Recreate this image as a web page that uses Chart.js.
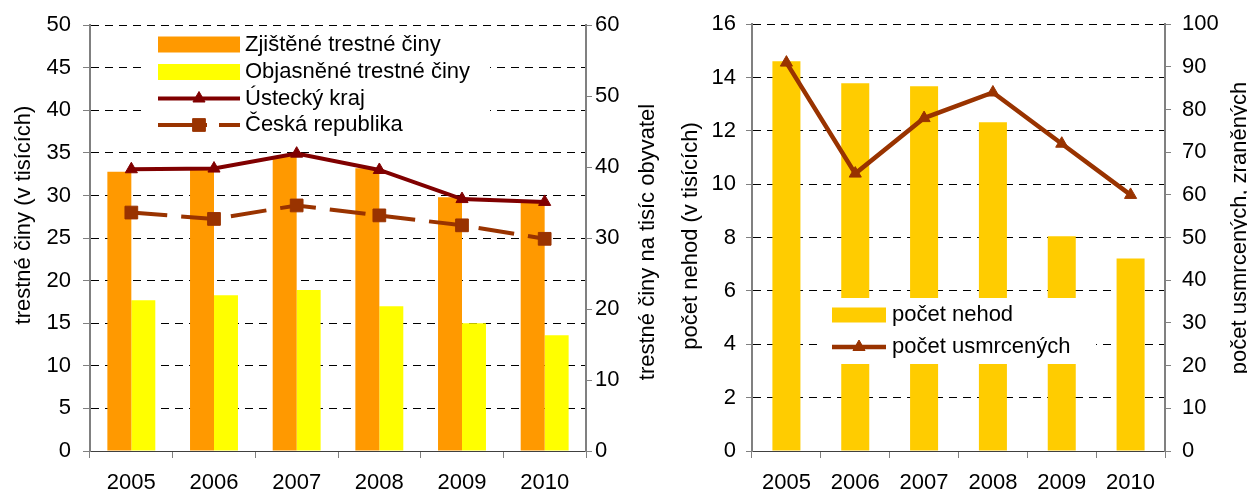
<!DOCTYPE html>
<html>
<head>
<meta charset="utf-8">
<script src="https://cdn.jsdelivr.net/npm/chart.js@4.4.0/dist/chart.umd.min.js"></script>
<style>
    html, body { margin: 0; padding: 0; background: #fff; }
    #wrap { position: relative; width: 1247px; height: 492px; overflow: hidden; }
    #leftChart { position: absolute; left: 0; top: 0; }
    #rightChart { position: absolute; left: 668px; top: 0; }
</style>
</head>
<body>
<div id="wrap">
    <canvas id="leftChart" width="668" height="492"></canvas>
    <canvas id="rightChart" width="579" height="492"></canvas>
</div>
<script>
// data
const years = ["2005", "2006", "2007", "2008", "2009", "2010"];
const zjistene = [32.8, 33.1, 34.6, 33.2, 29.8, 29.4];      // v tisících
const objasnene = [17.7, 18.3, 18.9, 17.0, 15.0, 13.6];     // v tisících
const ustecky = [39.7, 39.8, 41.9, 39.6, 35.5, 35.1];       // na tisíc obyvatel
const ceska = [33.6, 32.7, 34.6, 33.2, 31.8, 29.9];         // na tisíc obyvatel
const nehody = [14.61, 13.79, 13.67, 12.32, 8.05, 7.22];    // v tisících
const usmrceni = [91, 65, 78, 84, 72, 60];

const FONT = "'Liberation Sans', Arial, sans-serif";
Chart.defaults.font.family = FONT;
Chart.defaults.font.size = 22;
Chart.defaults.color = "#000";

const AXIS_GRAY = "#808080";

// legend drawn inside the plot on a white box
const insideLegend = {
    id: "insideLegend",
    afterDatasetsDraw(chart, args, opts) {
        const ctx = chart.ctx;
        const [bx, by, bw, bh] = opts.box;
        ctx.save();
        ctx.fillStyle = "#fff";
        ctx.fillRect(bx, by, bw, bh);

        opts.order.forEach((dsIndex, row) => {
            const ds = chart.data.datasets[dsIndex];
            const y = opts.rows[row];
            const sx = opts.sampleX, sw = opts.sampleW;
            if (ds.type === "line") {
                ctx.save();
                ctx.strokeStyle = ds.borderColor;
                ctx.lineWidth = ds.borderWidth;
                ctx.setLineDash(ds.legendDash || []);
                ctx.beginPath();
                ctx.moveTo(sx, y);
                ctx.lineTo(sx + sw, y);
                ctx.stroke();
                ctx.restore();
                ctx.fillStyle = ds.pointBackgroundColor;
                ctx.strokeStyle = ds.pointBorderColor;
                ctx.lineWidth = ds.pointBorderWidth;
                Chart.helpers.drawPoint(ctx, {
                    pointStyle: ds.pointStyle,
                    rotation: 0,
                    radius: ds.pointRadius,
                    borderWidth: ds.pointBorderWidth
                }, sx + sw / 2, y);
            } else {
                ctx.fillStyle = ds.backgroundColor;
                ctx.fillRect(sx, y - opts.boxH / 2, sw, opts.boxH);
            }
            ctx.fillStyle = "#000";
            ctx.font = "22px " + FONT;
            ctx.textBaseline = "middle";
            ctx.textAlign = "left";
            ctx.fillText(ds.label, opts.textX, y);
        });
        ctx.restore();
    }
};

// vertical axis titles, all reading bottom to top
const axisTitles = {
    id: "axisTitles",
    afterDraw(chart, args, opts) {
        const ctx = chart.ctx;
        opts.items.forEach(t => {
            ctx.save();
            ctx.translate(t.x, t.y);
            ctx.rotate(-Math.PI / 2);
            ctx.font = "22px " + FONT;
            ctx.fillStyle = "#000";
            ctx.textAlign = "center";
            ctx.textBaseline = "middle";
            ctx.fillText(t.text, 0, 0);
            ctx.restore();
        });
    }
};

function gridColor(ctx) {
    return ctx.tick && ctx.tick.value === 0 ? "rgba(0,0,0,0)" : "#000";
}

function xScale() {
    return {
        grid: { offset: true, drawOnChartArea: false, tickLength: 7, tickColor: AXIS_GRAY },
        border: { color: "#404040", width: 1 },
        ticks: { padding: 12 },
        afterFit: s => { s.height = 41; }
    };
}

// left chart: trestné činy
new Chart(document.getElementById("leftChart"), {
    data: {
        labels: years,
        datasets: [
            {
                type: "line", label: "Ústecký kraj", data: ustecky, yAxisID: "y1", order: 0,
                borderColor: "#800000", borderWidth: 4, tension: 0,
                pointStyle: "triangle", pointRadius: 7, pointBorderWidth: 1,
                pointBackgroundColor: "#800000", pointBorderColor: "#800000"
            },
            {
                type: "line", label: "Česká republika", data: ceska, yAxisID: "y1", order: 0,
                borderColor: "#993300", borderWidth: 4, borderDash: [36, 14], tension: 0,
                legendDash: [49, 12],
                pointStyle: "rect", pointRadius: 9, pointBorderWidth: 1,
                pointBackgroundColor: "#993300", pointBorderColor: "#993300"
            },
            {
                type: "bar", label: "Zjištěné trestné činy", data: zjistene, yAxisID: "y", order: 1,
                backgroundColor: "#FF9900", barPercentage: 1, categoryPercentage: 0.58
            },
            {
                type: "bar", label: "Objasněné trestné činy", data: objasnene, yAxisID: "y", order: 1,
                backgroundColor: "#FFFF00", barPercentage: 1, categoryPercentage: 0.58
            }
        ]
    },
    options: {
        responsive: false,
        animation: false,
        layout: { padding: { top: 24 } },
        scales: {
            x: xScale(),
            y: {
                position: "left", min: 0, max: 50,
                ticks: { stepSize: 5, padding: 12 },
                grid: { color: gridColor, tickLength: 7, tickColor: AXIS_GRAY },
                border: { color: AXIS_GRAY, width: 2, dash: [8, 6] },
                afterFit: s => { s.width = 90; }
            },
            y1: {
                position: "right", min: 0, max: 60,
                ticks: { stepSize: 10, padding: 3 },
                grid: { drawOnChartArea: false, tickLength: 6, tickColor: AXIS_GRAY },
                border: { color: AXIS_GRAY, width: 2 },
                afterFit: s => { s.width = 82; }
            }
        },
        plugins: {
            legend: { display: false },
            tooltip: { enabled: false },
            insideLegend: {
                box: [145, 28, 345, 112],
                order: [2, 3, 0, 1],
                rows: [44.5, 72, 98.5, 125],
                sampleX: 158, sampleW: 82, boxH: 16, textX: 245
            },
            axisTitles: {
                items: [
                    { text: "trestné činy (v tisících)", x: 24, y: 215 },
                    { text: "trestné činy na tisíc obyvatel", x: 648, y: 242 }
                ]
            }
        }
    },
    plugins: [insideLegend, axisTitles]
});

// right chart: nehody
new Chart(document.getElementById("rightChart"), {
    data: {
        labels: years,
        datasets: [
            {
                type: "line", label: "počet usmrcených", data: usmrceni, yAxisID: "y1", order: 0,
                borderColor: "#993300", borderWidth: 4.5, tension: 0,
                pointStyle: "triangle", pointRadius: 7, pointBorderWidth: 1,
                pointBackgroundColor: "#993300", pointBorderColor: "#993300"
            },
            {
                type: "bar", label: "počet nehod", data: nehody, yAxisID: "y", order: 1,
                backgroundColor: "#FFCC00", barPercentage: 1, categoryPercentage: 0.407
            }
        ]
    },
    options: {
        responsive: false,
        animation: false,
        layout: { padding: { top: 24 } },
        scales: {
            x: xScale(),
            y: {
                position: "left", min: 0, max: 16,
                ticks: { stepSize: 2, padding: 10 },
                grid: { color: gridColor, tickLength: 6, tickColor: AXIS_GRAY },
                border: { color: AXIS_GRAY, width: 2, dash: [8, 6] },
                afterFit: s => { s.width = 84; }
            },
            y1: {
                position: "right", min: 0, max: 100,
                ticks: { stepSize: 10, padding: 11 },
                grid: { drawOnChartArea: false, tickLength: 6, tickColor: AXIS_GRAY },
                border: { color: AXIS_GRAY, width: 2 },
                afterFit: s => { s.width = 82; }
            }
        },
        plugins: {
            legend: { display: false },
            tooltip: { enabled: false },
            insideLegend: {
                box: [152, 298, 276, 66],
                order: [1, 0],
                rows: [315, 347],
                sampleX: 164, sampleW: 54, boxH: 15, textX: 224
            },
            axisTitles: {
                items: [
                    { text: "počet nehod (v tisících)", x: 23, y: 236 },
                    { text: "počet usmrcených, zraněných", x: 572, y: 228 }
                ]
            }
        }
    },
    plugins: [insideLegend, axisTitles]
});
</script>
</body>
</html>
